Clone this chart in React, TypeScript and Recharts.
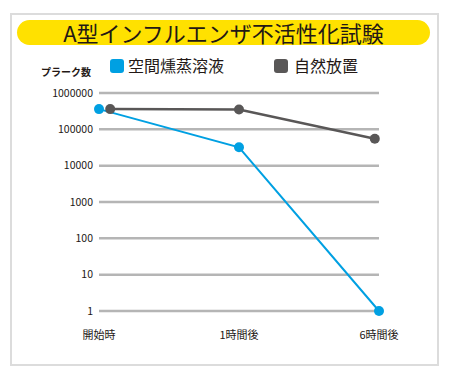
import React from 'react';
import { LineChart, Line, XAxis, YAxis, CartesianGrid } from 'recharts';

const categories = ['開始時', '1時間後', '6時間後'];
const categoryPositions = [0, 1, 2];
const fumigationX = [0, 1, 2];
const fumigationValues = [360000, 32000, 1];
const naturalX = [0.08, 1, 1.97];
const naturalValues = [360000, 350000, 55000];
const yTicks = [1, 10, 100, 1000, 10000, 100000, 1000000];

const title = 'A型インフルエンザ不活性化試験';
const yLabel = 'プラーク数';
const seriesNames = ['空間燻蒸溶液', '自然放置'];
const colors = ['#00A0E2', '#595757'];

const fumigationData = fumigationX.map((x, i) => ({ x, v: fumigationValues[i] }));
const naturalData = naturalX.map((x, i) => ({ x, v: naturalValues[i] }));

const font = '"Noto Sans CJK JP", "Noto Sans", sans-serif';

export default function App() {
  return (
    <div style={{ position: 'absolute', left: 0, top: 0, width: 450, height: 380, background: '#fff', fontFamily: font }}>
      <div style={{ position: 'absolute', left: 10, top: 13, width: 425, height: 349, border: '2px solid #DCDCDC' }} />
      <div style={{ position: 'absolute', left: 17, top: 20, width: 413, height: 25, borderRadius: 13, background: '#FFE100' }} />
      <div style={{ position: 'absolute', left: 17, top: 20, width: 413, height: 25, lineHeight: '25px', textAlign: 'center', fontSize: 22, color: '#231815', letterSpacing: 0 }}>{title}</div>
      <div style={{ position: 'absolute', left: 41, top: 64, fontSize: 10, color: '#231815', fontWeight: 700 }}>{yLabel}</div>
      <div style={{ position: 'absolute', left: 110, top: 59, width: 14, height: 14, borderRadius: 3, background: colors[0] }} />
      <div style={{ position: 'absolute', left: 128, top: 54, fontSize: 16, lineHeight: '22px', color: '#231815' }}>{seriesNames[0]}</div>
      <div style={{ position: 'absolute', left: 274, top: 59, width: 14, height: 14, borderRadius: 3, background: colors[1] }} />
      <div style={{ position: 'absolute', left: 294, top: 54, fontSize: 16, lineHeight: '22px', color: '#231815' }}>{seriesNames[1]}</div>
      <div style={{ position: 'absolute', left: 0, top: 0 }}>
        <LineChart width={450} height={380} margin={{ top: 93, right: 71, bottom: 39, left: 39 }}>
          <CartesianGrid vertical={false} stroke="#B5B5B5" strokeWidth={2.5} />
          <XAxis
            dataKey="x"
            type="number"
            domain={[0, 2]}
            ticks={categoryPositions}
            tickFormatter={(v: number) => categories[v]}
            axisLine={false}
            tickLine={false}
            tickSize={8}
            tickMargin={12}
            height={30}
            tick={{ fontSize: 11, fill: '#231815', fontFamily: font }}
            allowDuplicatedCategory={false}
          />
          <YAxis
            dataKey="v"
            scale="log"
            domain={[1, 1000000]}
            ticks={yTicks}
            axisLine={false}
            tickLine={false}
            tickSize={4}
            tickMargin={2}
            width={60}
            tick={{ fontSize: 10.5, fill: '#231815', fontFamily: font }}
          />
          <Line data={naturalData} dataKey="v" stroke={colors[1]} strokeWidth={2.5} dot={{ r: 5, fill: colors[1], stroke: colors[1], strokeWidth: 0 }} isAnimationActive={false} />
          <Line data={fumigationData} dataKey="v" stroke={colors[0]} strokeWidth={2} dot={{ r: 5, fill: colors[0], stroke: colors[0], strokeWidth: 0 }} isAnimationActive={false} />
        </LineChart>
      </div>
    </div>
  );
}
